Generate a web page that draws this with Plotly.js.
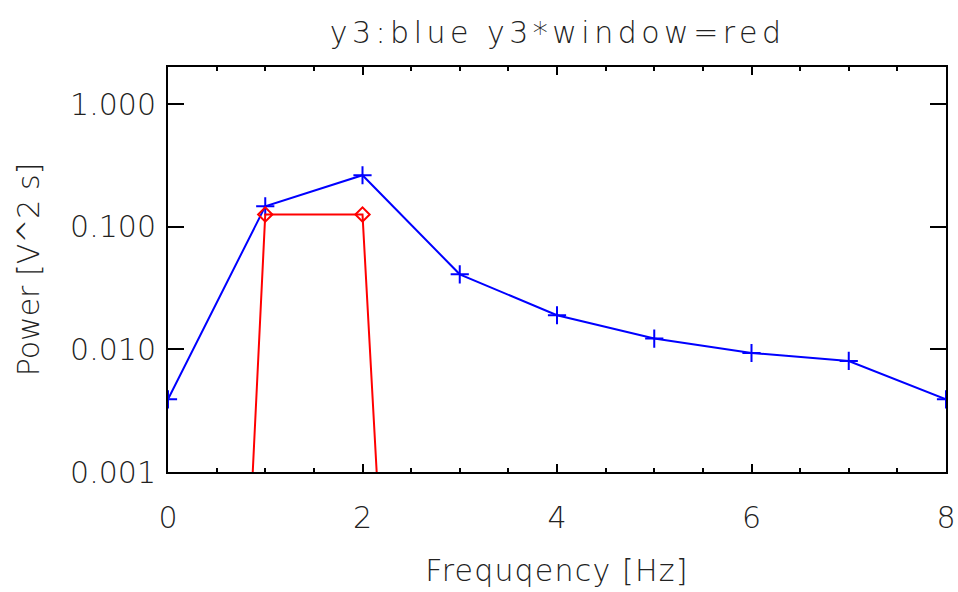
<!DOCTYPE html>
<html>
<head>
<meta charset="utf-8">
<script src="https://cdn.plot.ly/plotly-3.0.1.min.js"></script>
<style>
html,body{margin:0;padding:0;background:#fff;}
#chart{width:958px;height:592px;}
#chart .gtitle{letter-spacing:4.5px;}
#chart .xtitle{letter-spacing:1.2px;}
</style>
</head>
<body>
<div id="chart"></div>
<script>
// Data
const freq = [0, 1, 2, 3, 4, 5, 6, 7, 8];
const powerBlue = [0.00392, 0.147, 0.2635, 0.041, 0.0190, 0.01226, 0.00935, 0.00805, 0.00392];
const freqRed = [0, 1, 2, 3];
const powerRed = [6e-18, 0.126, 0.126, 5e-16];
const yTickVals = [0.001, 0.01, 0.1, 1];
const yTickText = ["0.001", "0.010", "0.100", "1.000"];
const xTickVals = [0, 2, 4, 6, 8];

const txtFont = {family: "DejaVu Sans", color: "#222", weight: 200};

const traces = [
  {
    x: freq, y: powerBlue, type: "scatter", mode: "lines+markers",
    line: {color: "#0000ff", width: 2},
    marker: {symbol: "cross-thin-open", size: 13, color: "#0000ff", line: {color: "#0000ff", width: 2}},
    cliponaxis: true, showlegend: false
  },
  {
    x: freqRed, y: powerRed, type: "scatter", mode: "lines+markers",
    line: {color: "#ff0000", width: 2},
    marker: {symbol: "diamond-open", size: 11, color: "#ff0000", line: {color: "#ff0000", width: 2}},
    cliponaxis: true, showlegend: false
  }
];

const layout = {
  width: 958, height: 592,
  paper_bgcolor: "#fff", plot_bgcolor: "#fff",
  margin: {l: 168, r: 12, t: 67, b: 120},
  title: {text: "y3:blue y3*window=red", font: Object.assign({size: 30}, txtFont), x: 0.582, xanchor: "center", y: 0.945, yanchor: "middle"},
  xaxis: {
    range: [0, 8], tickvals: xTickVals, ticktext: xTickVals.map(String),
    ticks: "inside", ticklen: 8, tickwidth: 2, tickcolor: "#000",
    minor: {dtick: 0.5, tick0: 0, ticks: "inside", ticklen: 4, tickwidth: 2, tickcolor: "#000"},
    showline: true, linecolor: "#000", linewidth: 2, mirror: "ticks",
    showgrid: false, zeroline: false,
    ticklabelstandoff: 18,
    tickfont: Object.assign({size: 30}, txtFont),
    title: {text: "Frequqency [Hz]", font: Object.assign({size: 30}, txtFont), standoff: 26}
  },
  yaxis: {
    type: "log", range: [-3, 0.304],
    tickvals: yTickVals, ticktext: yTickText,
    ticks: "inside", ticklen: 16, tickwidth: 2, tickcolor: "#000",
    showline: true, linecolor: "#000", linewidth: 2, mirror: "ticks",
    showgrid: false, zeroline: false,
    ticklabelstandoff: 4,
    tickfont: Object.assign({size: 30}, txtFont),
    title: {text: "Power [V^2 s]", font: Object.assign({size: 30}, txtFont), standoff: 22}
  }
};

Plotly.newPlot("chart", traces, layout, {displayModeBar: false, staticPlot: true});
</script>
</body>
</html>
